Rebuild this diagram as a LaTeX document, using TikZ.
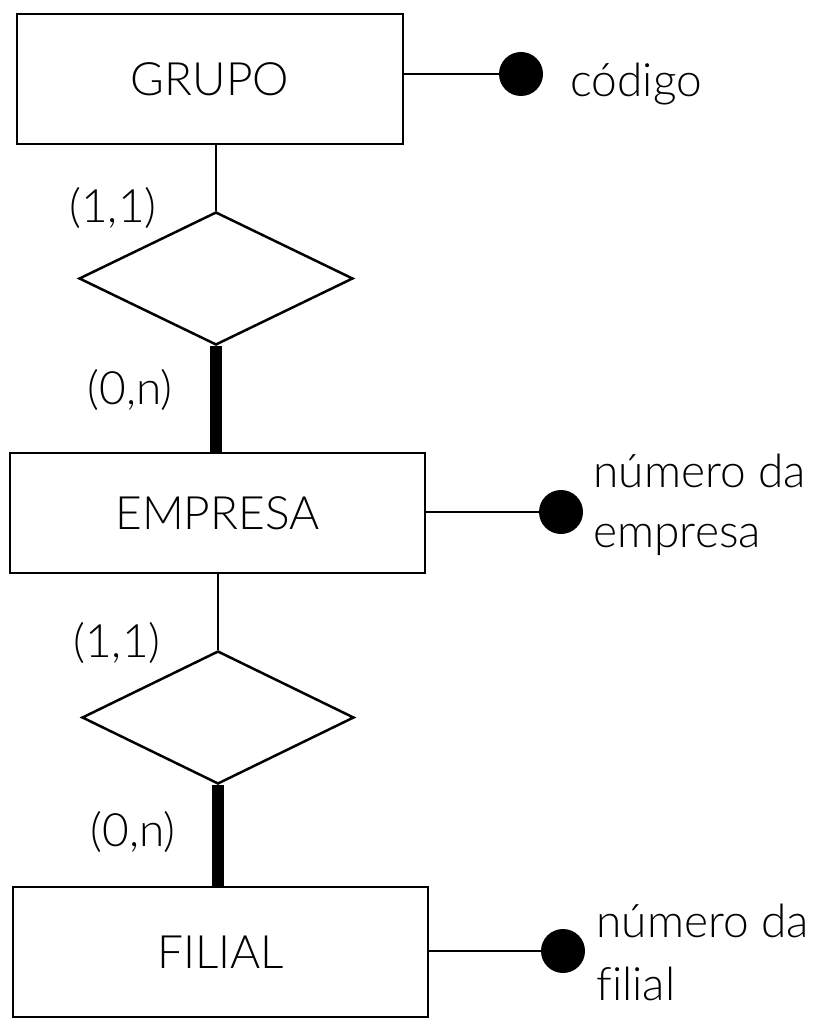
\documentclass[tikz,border=0pt]{standalone}
\usepackage{fontspec}
\setmainfont{Lato Light}[Ligatures=NoCommon]
\usepackage{tikz}
\usetikzlibrary{shapes.geometric}
\tikzset{%
    entity/.style={draw, line width=2.5pt, inner sep=0pt},
    relation/.style={draw, diamond, line width=2.5pt, inner sep=0pt},
    attrdot/.style={circle, fill=black, inner sep=0pt, minimum size=44pt},
    thinline/.style={line width=2.5pt},
    thickline/.style={line width=12pt}
}

\begin{document}
\begin{tikzpicture}[x=1pt,y=-1pt,font=\fontsize{46}{56}\selectfont]
    \useasboundingbox (0,0) rectangle (838,1032);
    % entidades
    \node[entity, minimum width=386pt, minimum height=130pt] (grupo) at (210,79) {GRUPO};
    \node[entity, minimum width=415pt, minimum height=120pt] (empresa) at (217.5,513) {EMPRESA};
    \node[entity, minimum width=415pt, minimum height=130pt] (filial) at (220.5,952) {FILIAL};
    % relacionamentos
    \node[relation, minimum width=274pt, minimum height=133pt] (relgrupo) at (216,278.5) {};
    \node[relation, minimum width=272pt, minimum height=133pt] (relfilial) at (218,717.5) {};
    \draw[thinline] (relgrupo.north |- grupo.south) -- (relgrupo.north);
    \draw[thickline] (relgrupo.south) -- (relgrupo.south |- empresa.north);
    \draw[thinline] (relfilial.north |- empresa.south) -- (relfilial.north);
    \draw[thickline] (relfilial.south) -- (relfilial.south |- filial.north);
    \node[] (c1) at (113,208) {(1,1)};
    \node[] (c2) at (130,390) {(0,n)};
    \node[] (c3) at (117,643) {(1,1)};
    \node[] (c4) at (133,832) {(0,n)};
    % atributos
    \node[attrdot] (codigo) at (521,74) {};
    \node[attrdot] (numempresa) at (561,512) {};
    \node[attrdot] (numfilial) at (563,951) {};
    \draw[thinline] (grupo.east |- codigo) -- (codigo);
    \draw[thinline] (empresa.east |- numempresa) -- (numempresa);
    \draw[thinline] (filial.east |- numfilial) -- (numfilial);
    \node[anchor=base west] (tcodigo) at (567,97) {código};
    \node[anchor=base west] (tnumempresa) at (590,487) {número da};
    \node[anchor=base west] (tempresa) at (590,547) {empresa};
    \node[anchor=base west] (tnumfilial) at (593,937) {número da};
    \node[anchor=base west] (tfilial) at (593,1000) {filial};
\end{tikzpicture}
\end{document}
